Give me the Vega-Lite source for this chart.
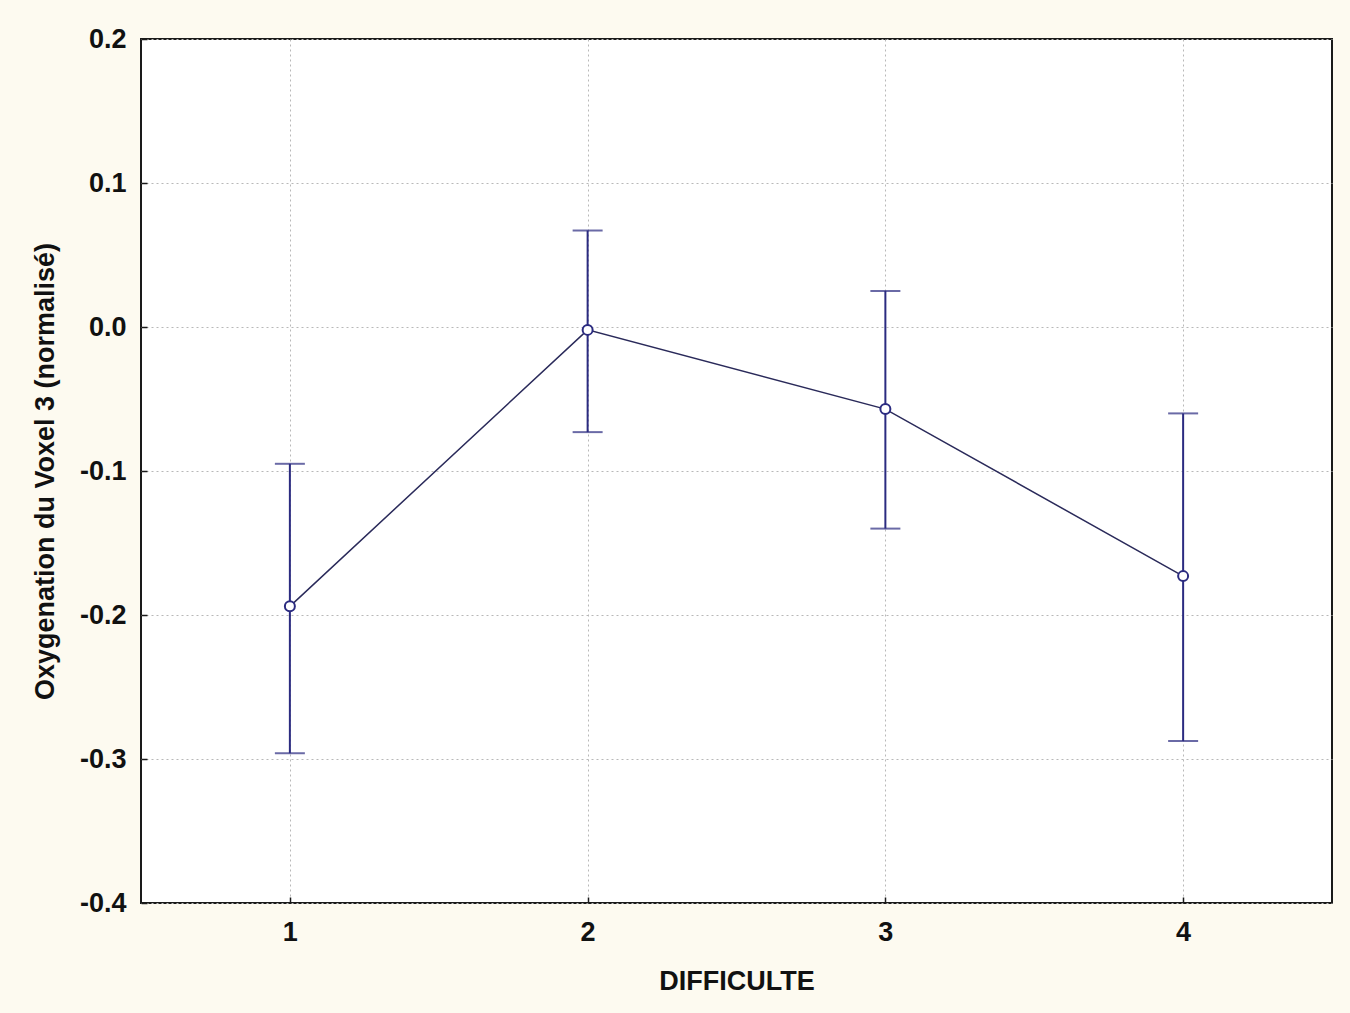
{
  "$schema": "https://vega.github.io/schema/vega-lite/v6.json",
  "autosize": {"type": "none"},
  "padding": {"left": 141, "top": 39, "right": 18, "bottom": 110},
  "width": 1191,
  "height": 864,
  "background": "#fdfaf0",
  "config": {
    "view": {"fill": "#ffffff", "stroke": "#1a1a1a", "strokeWidth": 2},
    "axis": {
      "labelFont": "Liberation Sans",
      "titleFont": "Liberation Sans",
      "labelFontSize": 27,
      "titleFontSize": 27,
      "labelFontWeight": "bold",
      "titleFontWeight": "bold",
      "labelColor": "#111111",
      "titleColor": "#111111",
      "gridColor": "#b8b8b8",
      "gridDash": [2, 3],
      "gridWidth": 1,
      "domain": false,
      "ticks": true,
      "tickSize": -6,
      "tickColor": "#1a1a1a",
      "tickWidth": 1.5
    }
  },
  "data": {
    "values": [
      {"difficulte": 1, "mean": -0.194, "lower": -0.296, "upper": -0.095},
      {"difficulte": 2, "mean": -0.002, "lower": -0.073, "upper": 0.067},
      {"difficulte": 3, "mean": -0.057, "lower": -0.140, "upper": 0.025},
      {"difficulte": 4, "mean": -0.173, "lower": -0.2875, "upper": -0.060}
    ]
  },
  "encoding": {
    "x": {
      "field": "difficulte",
      "type": "quantitative",
      "scale": {"domain": [0.5, 4.5], "nice": false, "zero": false},
      "axis": {"values": [1, 2, 3, 4], "format": "d", "title": "DIFFICULTE", "labelPadding": 22, "titlePadding": 23}
    }
  },
  "layer": [
    {
      "mark": {"type": "line", "color": "#2a2a5a", "strokeWidth": 1.5},
      "encoding": {
        "y": {
          "field": "mean",
          "type": "quantitative",
          "scale": {"domain": [-0.4, 0.2], "nice": false, "zero": false},
          "axis": {"values": [-0.4, -0.3, -0.2, -0.1, 0.0, 0.1, 0.2], "format": ".1f", "labelExpr": "replace(datum.label, '\u2212', '-')", "title": "Oxygenation du Voxel 3 (normalisé)", "labelPadding": 21, "titlePadding": 20}
        }
      }
    },
    {
      "mark": {"type": "errorbar", "ticks": {"size": 30, "thickness": 2, "color": "#2b2b80"}, "rule": {"strokeWidth": 2, "color": "#2b2b80"}},
      "encoding": {
        "y": {"field": "lower", "type": "quantitative", "title": "Oxygenation du Voxel 3 (normalisé)"},
        "y2": {"field": "upper"}
      }
    },
    {
      "mark": {"type": "point", "shape": "circle", "size": 100, "filled": true, "fill": "#ffffff", "stroke": "#2b2b80", "strokeWidth": 2, "opacity": 1},
      "encoding": {
        "y": {"field": "mean", "type": "quantitative", "title": "Oxygenation du Voxel 3 (normalisé)"}
      }
    }
  ]
}
